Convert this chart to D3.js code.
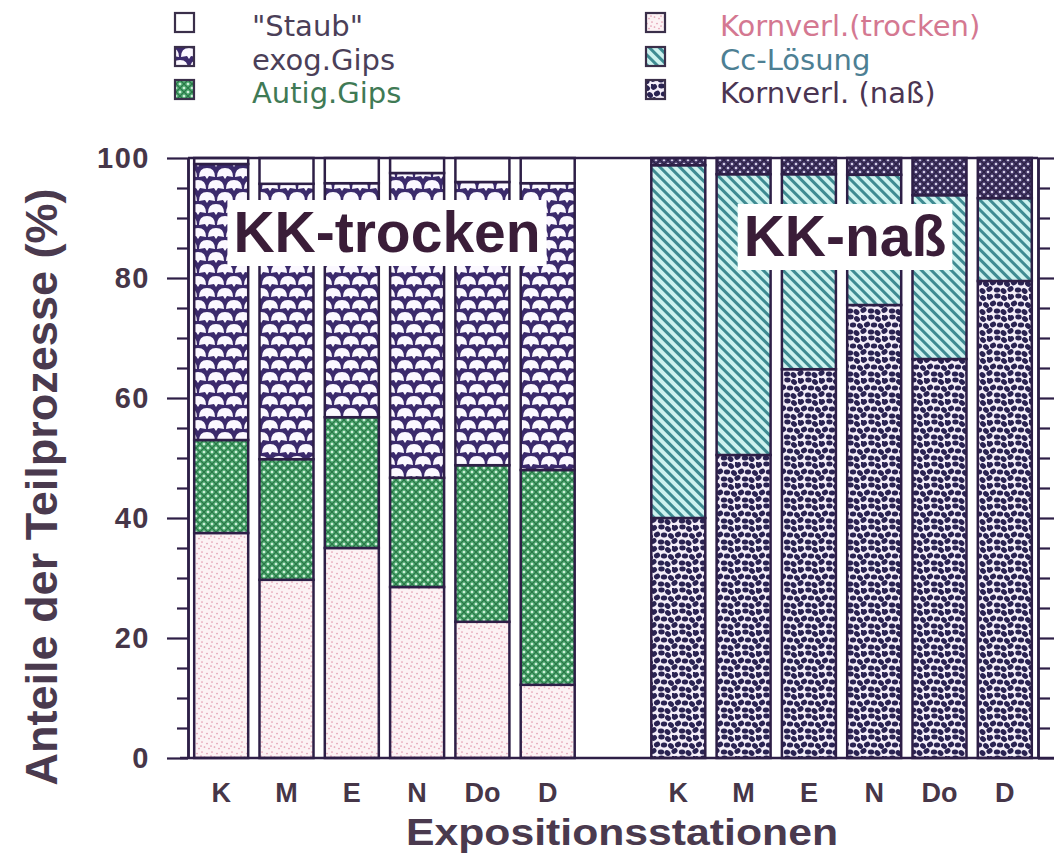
<!DOCTYPE html>
<html>
<head>
<meta charset="utf-8">
<script src="https://cdn.jsdelivr.net/npm/d3@7"></script>
<style>
  html, body { margin: 0; padding: 0; background: #fff; }
  svg { display: block; }
</style>
</head>
<body>
<svg id="chart" width="1054" height="857"></svg>
<script>
// Stations of exposure (same order in both groups)
const stationen = ["K", "M", "E", "N", "Do", "D"];
const yTicks = [0, 20, 40, 60, 80, 100];

// KK-trocken: shares (%) from bottom to top
const kornverlTrocken = [37.5, 29.7, 35.0, 28.5, 22.7, 12.2];
const autigGips       = [15.5, 20.1, 21.8, 18.2, 26.1, 35.8];
const exogGips        = [46.0, 45.9, 39.0, 50.8, 47.2, 47.8];
const staub           = [1.0, 4.3, 4.2, 2.5, 4.0, 4.2];

// KK-naß: shares (%) from bottom to top
const kornverlNass = [40.0, 50.5, 64.8, 75.5, 66.5, 79.5];
const ccLoesung    = [58.8, 46.8, 32.5, 21.7, 27.3, 13.8];
const gipsNass     = [1.2, 2.7, 2.7, 2.8, 6.2, 6.7];

const legendLeft  = [
  { label: "\"Staub\"",   pat: "staub",   color: "#4b3f58" },
  { label: "exog.Gips",  pat: "exog",    color: "#4b3f58" },
  { label: "Autig.Gips", pat: "autig",   color: "#3f7a55" }
];
const legendRight = [
  { label: "Kornverl.(trocken)", pat: "kornT", color: "#d47891" },
  { label: "Cc-Lösung",          pat: "cc",    color: "#4d7f93" },
  { label: "Kornverl. (naß)",    pat: "kornN", color: "#4b3552" }
];

const svg = d3.select("#chart");
const ink = "#2e1f47";

// ---------- fill patterns ----------
const defs = svg.append("defs");

function pattern(id, w, h, draw, transform) {
  const p = defs.append("pattern").attr("id", id)
    .attr("patternUnits", "userSpaceOnUse").attr("width", w).attr("height", h);
  if (transform) p.attr("patternTransform", transform);
  draw(p);
}

pattern("pat-staub", 10, 10, p => {
  p.append("rect").attr("width", 10).attr("height", 10).attr("fill", "#ffffff");
});

// scalloped fan pattern
pattern("pat-exog", 18, 24, p => {
  p.append("rect").attr("width", 18).attr("height", 24).attr("fill", "#3b2a6c");
  const dome = (cx, cy) => `M${cx - 8},${cy + 8} Q${cx - 8},${cy - 1} ${cx},${cy - 1} Q${cx + 8},${cy - 1} ${cx + 8},${cy + 8} L${cx + 2},${cy + 7} L${cx},${cy + 10} L${cx - 2},${cy + 7} Z`;
  [[9, 1], [0, 13], [18, 13], [9, 25], [0, -11], [18, -11]].forEach(([cx, cy]) => {
    p.append("path").attr("d", dome(cx, cy)).attr("fill", "#fbf8ff");
  });
});

// diamond cross-hatch with light dots
function diamondPattern(id, bg, cell, dot) {
  pattern(id, 8, 8, p => {
    p.append("rect").attr("width", 8).attr("height", 8).attr("fill", bg);
    [[0, 0], [8, 0], [0, 8], [8, 8], [4, 4]].forEach(([cx, cy]) => {
      p.append("polygon")
        .attr("points", `${cx},${cy - 3} ${cx + 3},${cy} ${cx},${cy + 3} ${cx - 3},${cy}`)
        .attr("fill", cell);
      p.append("circle").attr("cx", cx).attr("cy", cy).attr("r", 1.1).attr("fill", dot);
    });
  });
}
diamondPattern("pat-autig", "#2a7a48", "#62b882", "#eafcee");
diamondPattern("pat-gipsN", "#2b2146", "#56497a", "#f4f0ff");

// fine pink speckles
pattern("pat-kornT", 10, 10, p => {
  p.append("rect").attr("width", 10).attr("height", 10).attr("fill", "#fcf2f4");
  [[2, 2], [7, 3.5], [4.5, 7], [9, 8.5], [1, 6]].forEach(([cx, cy]) => {
    p.append("circle").attr("cx", cx).attr("cy", cy).attr("r", 0.85).attr("fill", "#e29cb1");
  });
});

// diagonal hatching on light cyan
pattern("pat-cc", 8, 7, p => {
  p.append("rect").attr("width", 8).attr("height", 7).attr("fill", "#cdf2ef");
  p.append("rect").attr("y", 0).attr("width", 8).attr("height", 3).attr("fill", "#3f8b92");
}, "rotate(45)");

// dense dark blobs on a pale ground
pattern("pat-kornN", 21, 21, p => {
  p.append("rect").attr("width", 21).attr("height", 21).attr("fill", "#f4eef9");
  const blob = (cx, cy, rot) => p.append("ellipse").attr("cx", cx).attr("cy", cy)
    .attr("rx", 3.2).attr("ry", 2.6)
    .attr("transform", `rotate(${rot},${cx},${cy})`)
    .attr("fill", "#2a2352");
  [[3, 3], [10.5, 2], [17, 4], [6, 9.5], [13, 10], [20, 11], [2.5, 16], [10, 17], [16.5, 18]]
    .forEach(([cx, cy], i) => blob(cx, cy, (i % 3) * 35 - 30));
  // wrap-around copies at the tile edges
  [[24, 3, -30], [-1, 11, 40], [23.5, 16, -30], [3, 24, -30], [10.5, 23, 5], [17, 25, 40], [-1, 0, 0], [20, 32, 0]]
    .forEach(([cx, cy, r]) => blob(cx, cy, r));
});

// ---------- scales ----------
const keysT = stationen.map(s => "t-" + s);
const keysN = stationen.map(s => "n-" + s);
const x = d3.scaleBand()
  .domain([...keysT, "sep", ...keysN])
  .range([188, 1038])
  .paddingInner(0.173)
  .paddingOuter(0.095);

const y = d3.scaleLinear().domain([0, 100]).range([758, 158]);

// ---------- stacked bars ----------
const rowsT = stationen.map((s, i) => ({
  key: "t-" + s, kornT: kornverlTrocken[i], autig: autigGips[i], exog: exogGips[i], staub: staub[i]
}));
const rowsN = stationen.map((s, i) => ({
  key: "n-" + s, kornN: kornverlNass[i], cc: ccLoesung[i], gipsN: gipsNass[i]
}));

const stackT = d3.stack().keys(["kornT", "autig", "exog", "staub"])(rowsT);
const stackN = d3.stack().keys(["kornN", "cc", "gipsN"])(rowsN);

const bars = svg.append("g");
[...stackT, ...stackN].forEach(series => {
  bars.append("g").selectAll("rect")
    .data(series)
    .join("rect")
    .attr("x", d => x(d.data.key))
    .attr("width", x.bandwidth())
    .attr("y", d => y(d[1]))
    .attr("height", d => y(d[0]) - y(d[1]))
    .attr("fill", `url(#pat-${series.key})`)
    .attr("stroke", ink)
    .attr("stroke-width", 2.5);
});

// ---------- group titles on white boxes ----------
function groupTitle(text, cx, baseline) {
  const g = svg.append("g");
  const box = g.append("rect").attr("fill", "#ffffff");
  const t = g.append("text")
    .attr("x", cx).attr("y", baseline)
    .attr("text-anchor", "middle")
    .attr("font-family", "Liberation Sans, Arial, sans-serif")
    .attr("font-weight", "bold")
    .attr("font-size", 57)
    .attr("fill", "#3a1d38")
    .text(text);
  const b = t.node().getBBox();
  box.attr("x", b.x - 6).attr("y", b.y).attr("width", b.width + 12).attr("height", b.height + 2);
}
groupTitle("KK-trocken", 387, 252);
groupTitle("KK-naß", 845, 256);

// ---------- frame and axes ----------
const axisFont = "Liberation Sans, Arial, sans-serif";
const minorTicks = d3.range(0, 101, 5).filter(v => v % 20 !== 0);

svg.append("line").attr("x1", 188).attr("x2", 1038)
  .attr("y1", y(100)).attr("y2", y(100)).attr("stroke", ink).attr("stroke-width", 2.5);
svg.append("line").attr("x1", 180).attr("x2", 1054)
  .attr("y1", y(0)).attr("y2", y(0)).attr("stroke", ink).attr("stroke-width", 2.5);

function styleAxis(g) {
  g.selectAll("path.domain").attr("stroke", ink).attr("stroke-width", 2.5);
  g.selectAll(".tick line").attr("stroke", ink).attr("stroke-width", 2.2);
}

const leftMinor = svg.append("g").attr("transform", "translate(188,0)")
  .call(d3.axisLeft(y).tickValues(minorTicks).tickSize(11).tickSizeOuter(0).tickFormat(""));
styleAxis(leftMinor);

const leftMajor = svg.append("g").attr("transform", "translate(188,0)")
  .call(d3.axisLeft(y).tickValues(yTicks).tickSize(21).tickSizeOuter(0).tickPadding(17));
styleAxis(leftMajor);
leftMajor.selectAll(".tick text")
  .attr("font-family", axisFont).attr("font-weight", "bold")
  .attr("font-size", 29).attr("letter-spacing", 1.5)
  .attr("fill", "#463648");

const rightMinor = svg.append("g").attr("transform", "translate(1038,0)")
  .call(d3.axisRight(y).tickValues(minorTicks).tickSize(12).tickSizeOuter(0).tickFormat(""));
styleAxis(rightMinor);
const rightMajor = svg.append("g").attr("transform", "translate(1038,0)")
  .call(d3.axisRight(y).tickValues(yTicks).tickSize(16).tickSizeOuter(0).tickFormat(""));
styleAxis(rightMajor);

// station labels under each bar
const bottom = svg.append("g").attr("transform", `translate(0,${y(0)})`)
  .call(d3.axisBottom(x)
    .tickValues([...keysT, ...keysN])
    .tickSize(0).tickPadding(25)
    .tickFormat(k => k.slice(2)));
bottom.select("path.domain").remove();
bottom.selectAll(".tick text")
  .attr("font-family", axisFont).attr("font-weight", "bold")
  .attr("font-size", 27).attr("fill", "#463648");

// axis titles
svg.append("text")
  .attr("transform", "translate(57,487) rotate(-90)")
  .attr("text-anchor", "middle")
  .attr("font-family", axisFont).attr("font-weight", "bold")
  .attr("font-size", 45).attr("fill", "#4a3a4e")
  .text("Anteile der Teilprozesse (%)");

svg.append("text")
  .attr("x", 622).attr("y", 845)
  .attr("text-anchor", "middle")
  .attr("font-family", axisFont).attr("font-weight", "bold")
  .attr("font-size", 37).attr("fill", "#4a3a4e")
  .attr("textLength", 432).attr("lengthAdjust", "spacingAndGlyphs")
  .text("Expositionsstationen");

// ---------- legend ----------
function legend(items, iconX, textX) {
  const rowY = [13, 47, 80];
  const g = svg.append("g");
  items.forEach((it, i) => {
    g.append("rect")
      .attr("x", iconX).attr("y", rowY[i]).attr("width", 19).attr("height", 19)
      .attr("fill", `url(#pat-${it.pat})`)
      .attr("stroke", "#3a2f4a").attr("stroke-width", 2.2);
    g.append("text")
      .attr("x", textX).attr("y", rowY[i] + 23)
      .attr("font-family", "DejaVu Sans, Verdana, sans-serif")
      .attr("font-size", 29).attr("fill", it.color)
      .text(it.label);
  });
}
legend(legendLeft, 175, 252);
legend(legendRight, 646, 720);
</script>
</body>
</html>
